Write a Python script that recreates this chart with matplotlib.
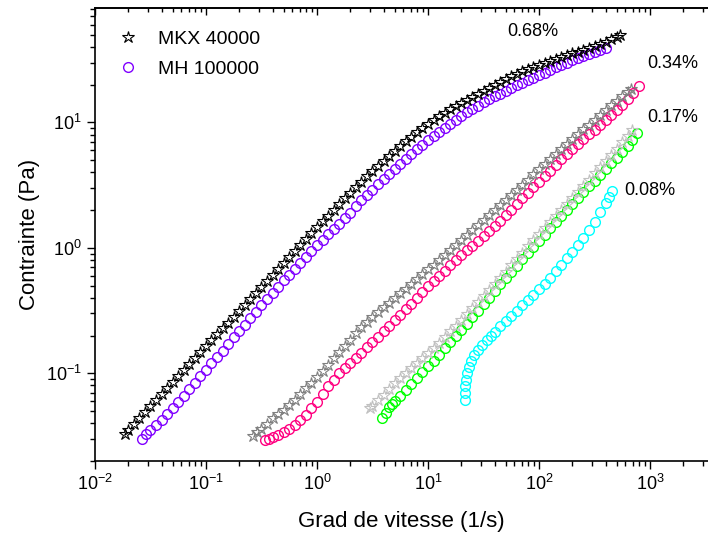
import matplotlib
matplotlib.use('Agg')
import matplotlib.pyplot as plt
from matplotlib.ticker import LogLocator, NullFormatter

plt.rcParams['font.family'] = ['Liberation Sans', 'DejaVu Sans']
plt.rcParams['mathtext.fontset'] = 'custom'
plt.rcParams['mathtext.rm'] = 'Liberation Sans'
plt.rcParams['mathtext.it'] = 'Liberation Sans:italic'
plt.rcParams['mathtext.default'] = 'regular'

# MKX 40000, 0.68%
mkx068_rate = [0.0186, 0.0200, 0.0224, 0.0251, 0.0282, 0.0316, 0.0355, 0.0398, 0.0447, 0.0501,
               0.0562, 0.0631, 0.0708, 0.0794, 0.0891, 0.1, 0.112, 0.126, 0.141, 0.158,
               0.178, 0.200, 0.224, 0.251, 0.282, 0.316, 0.355, 0.398, 0.447, 0.501,
               0.562, 0.631, 0.708, 0.794, 0.891, 1.0, 1.122, 1.259, 1.413, 1.585,
               1.778, 1.995, 2.239, 2.512, 2.818, 3.162, 3.548, 3.981, 4.467, 5.012,
               5.623, 6.310, 7.079, 7.943, 8.913, 10, 11.22, 12.59, 14.13, 15.85,
               17.78, 19.95, 22.39, 25.12, 28.18, 31.62, 35.48, 39.81, 44.67, 50.12,
               56.23, 63.10, 70.79, 79.43, 89.13, 100, 112.2, 125.9, 141.3, 158.5,
               177.8, 199.5, 223.9, 251.2, 281.8, 316.2, 354.8, 398.1, 446.7, 501.2,
               537]
mkx068_stress = [0.0331, 0.0355, 0.0396, 0.0442, 0.0493, 0.0550, 0.0613, 0.0684, 0.0763, 0.0851,
                 0.0950, 0.106, 0.118, 0.132, 0.147, 0.164, 0.183, 0.204, 0.228, 0.254,
                 0.283, 0.316, 0.353, 0.394, 0.439, 0.490, 0.547, 0.610, 0.680, 0.759,
                 0.846, 0.944, 1.053, 1.175, 1.311, 1.462, 1.627, 1.811, 2.014, 2.239,
                 2.483, 2.754, 3.048, 3.373, 3.716, 4.093, 4.498, 4.943, 5.408, 5.916,
                 6.457, 7.047, 7.656, 8.318, 9.016, 9.772, 10.47, 11.22, 11.96, 12.74,
                 13.49, 14.29, 15.13, 16.03, 16.94, 17.91, 18.90, 19.95, 21.01, 22.13,
                 23.25, 24.43, 25.55, 26.73, 27.77, 28.84, 29.85, 30.90, 31.99, 33.11,
                 34.27, 35.48, 36.73, 38.02, 39.36, 40.74, 42.42, 44.16, 46.24, 48.42,
                 49.66]

# MH 100000, 0.68%
mh068_rate = [0.0263, 0.0288, 0.0316, 0.0355, 0.0398, 0.0447, 0.0501, 0.0562, 0.0631, 0.0708,
              0.0794, 0.0891, 0.1, 0.112, 0.126, 0.141, 0.158, 0.178, 0.200, 0.224,
              0.251, 0.282, 0.316, 0.355, 0.398, 0.447, 0.501, 0.562, 0.631, 0.708,
              0.794, 0.891, 1.0, 1.122, 1.259, 1.413, 1.585, 1.778, 1.995, 2.239,
              2.512, 2.818, 3.162, 3.548, 3.981, 4.467, 5.012, 5.623, 6.310, 7.079,
              7.943, 8.913, 10, 11.22, 12.59, 14.13, 15.85, 17.78, 19.95, 22.39,
              25.12, 28.18, 31.62, 35.48, 39.81, 44.67, 50.12, 56.23, 63.10, 70.79,
              79.43, 89.13, 100, 112.2, 125.9, 141.3, 158.5, 177.8, 199.5, 223.9,
              251.2, 281.8, 316.2, 354.8, 398.1]
mh068_stress = [0.0302, 0.0327, 0.0355, 0.0389, 0.0427, 0.0473, 0.0525, 0.0589, 0.0661, 0.0746,
                0.0841, 0.0949, 0.107, 0.120, 0.135, 0.152, 0.172, 0.193, 0.217, 0.244,
                0.275, 0.309, 0.348, 0.391, 0.440, 0.492, 0.550, 0.613, 0.684, 0.763,
                0.851, 0.944, 1.047, 1.161, 1.288, 1.412, 1.549, 1.718, 1.905, 2.138,
                2.399, 2.645, 2.917, 3.217, 3.548, 3.899, 4.285, 4.688, 5.129, 5.591,
                6.095, 6.645, 7.244, 7.807, 8.414, 9.068, 9.772, 10.53, 11.35, 12.06,
                12.82, 13.61, 14.45, 15.27, 16.14, 16.98, 17.86, 18.77, 19.72, 20.70,
                21.73, 22.78, 23.88, 25.00, 26.18, 27.42, 28.71, 29.96, 31.26, 32.54,
                33.88, 35.16, 36.48, 37.67, 38.90]

# MKX 40000, 0.34%
mkx034_rate = [0.263, 0.288, 0.316, 0.355, 0.398, 0.447, 0.501, 0.562, 0.631, 0.708,
               0.794, 0.891, 1.0, 1.122, 1.259, 1.413, 1.585, 1.778, 1.995, 2.239,
               2.512, 2.818, 3.162, 3.548, 3.981, 4.467, 5.012, 5.623, 6.310, 7.079,
               7.943, 8.913, 10, 11.22, 12.59, 14.13, 15.85, 17.78, 19.95, 22.39,
               25.12, 28.18, 31.62, 35.48, 39.81, 44.67, 50.12, 56.23, 63.10, 70.79,
               79.43, 89.13, 100, 112.2, 125.9, 141.3, 158.5, 177.8, 199.5, 223.9,
               251.2, 281.8, 316.2, 354.8, 398.1, 446.7, 501.2, 562.3, 631.0, 676]
mkx034_stress = [0.0316, 0.0339, 0.0363, 0.0398, 0.0437, 0.0473, 0.0513, 0.0563, 0.0617, 0.0684,
                 0.0759, 0.0842, 0.0933, 0.1047, 0.1175, 0.1319, 0.148, 0.166, 0.186, 0.209,
                 0.234, 0.257, 0.282, 0.307, 0.335, 0.365, 0.398, 0.434, 0.473, 0.516,
                 0.562, 0.615, 0.673, 0.736, 0.804, 0.881, 0.966, 1.059, 1.161, 1.273,
                 1.396, 1.531, 1.679, 1.837, 2.009, 2.203, 2.415, 2.648, 2.904, 3.192,
                 3.508, 3.846, 4.217, 4.624, 5.070, 5.572, 6.124, 6.715, 7.362, 8.054,
                 8.810, 9.627, 10.52, 11.48, 12.53, 13.65, 14.86, 16.16, 17.58, 18.41]

# MH 100000, 0.34%
mh034_rate = [0.339, 0.367, 0.398, 0.447, 0.501, 0.562, 0.631, 0.708, 0.794, 0.891,
              1.0, 1.122, 1.259, 1.413, 1.585, 1.778, 1.995, 2.239, 2.512, 2.818,
              3.162, 3.548, 3.981, 4.467, 5.012, 5.623, 6.310, 7.079, 7.943, 8.913,
              10, 11.22, 12.59, 14.13, 15.85, 17.78, 19.95, 22.39, 25.12, 28.18,
              31.62, 35.48, 39.81, 44.67, 50.12, 56.23, 63.10, 70.79, 79.43, 89.13,
              100, 112.2, 125.9, 141.3, 158.5, 177.8, 199.5, 223.9, 251.2, 281.8,
              316.2, 354.8, 398.1, 446.7, 501.2, 562.3, 631.0, 707.9, 794.3]
mh034_stress = [0.0296, 0.0302, 0.0309, 0.0324, 0.0339, 0.0361, 0.0385, 0.0424, 0.0468, 0.0525,
                0.0589, 0.0684, 0.0794, 0.0891, 0.1, 0.1095, 0.120, 0.1324, 0.146, 0.1612,
                0.178, 0.196, 0.216, 0.239, 0.264, 0.292, 0.324, 0.359, 0.398, 0.444,
                0.495, 0.545, 0.600, 0.659, 0.724, 0.794, 0.871, 0.953, 1.042, 1.141,
                1.250, 1.367, 1.496, 1.650, 1.820, 2.019, 2.239, 2.483, 2.754, 3.048,
                3.373, 3.728, 4.121, 4.571, 5.070, 5.559, 6.095, 6.683, 7.328, 8.017,
                8.770, 9.582, 10.47, 11.48, 12.59, 13.85, 15.24, 17.24, 19.50]

# MKX 40000, 0.17%
mkx017_rate = [3.020, 3.162, 3.548, 3.981, 4.467, 5.012, 5.623, 6.310, 7.079, 7.943,
               8.913, 10, 11.22, 12.59, 14.13, 15.85, 17.78, 19.95, 22.39, 25.12,
               28.18, 31.62, 35.48, 39.81, 44.67, 50.12, 56.23, 63.10, 70.79, 79.43,
               89.13, 100, 112.2, 125.9, 141.3, 158.5, 177.8, 199.5, 223.9, 251.2,
               281.8, 316.2, 354.8, 398.1, 446.7, 501.2, 562.3, 631.0, 692]
mkx017_stress = [0.0525, 0.0550, 0.0610, 0.0676, 0.0750, 0.0832, 0.0912, 0.1, 0.1095, 0.120,
                 0.1319, 0.145, 0.1597, 0.176, 0.195, 0.216, 0.240, 0.267, 0.297, 0.331,
                 0.369, 0.412, 0.461, 0.515, 0.577, 0.646, 0.725, 0.813, 0.914, 1.028,
                 1.151, 1.288, 1.440, 1.611, 1.799, 2.009, 2.246, 2.512, 2.809, 3.141,
                 3.508, 3.917, 4.380, 4.898, 5.496, 6.166, 6.958, 7.852, 8.630]

# MH 100000, 0.17%
mh017_rate = [3.890, 4.17, 4.467, 4.73, 5.012, 5.623, 6.310, 7.079, 7.943, 8.913,
              10, 11.22, 12.59, 14.13, 15.85, 17.78, 19.95, 22.39, 25.12, 28.18,
              31.62, 35.48, 39.81, 44.67, 50.12, 56.23, 63.10, 70.79, 79.43, 89.13,
              100, 112.2, 125.9, 141.3, 158.5, 177.8, 199.5, 223.9, 251.2, 281.8,
              316.2, 354.8, 398.1, 446.7, 501.2, 562.3, 631.0, 691.8, 758.6]
mh017_stress = [0.0437, 0.0484, 0.0537, 0.0569, 0.0603, 0.0665, 0.0733, 0.0818, 0.0912, 0.1017,
                0.1135, 0.1265, 0.141, 0.158, 0.177, 0.1978, 0.221, 0.249, 0.281, 0.316,
                0.356, 0.402, 0.454, 0.511, 0.575, 0.644, 0.721, 0.808, 0.906, 1.015,
                1.138, 1.277, 1.432, 1.607, 1.803, 2.009, 2.239, 2.492, 2.773, 3.087,
                3.436, 3.815, 4.236, 4.715, 5.248, 5.834, 6.486, 7.278, 8.166]

# MH 100000, 0.08%
mh008_rate = [21.5, 21.5, 21.6, 21.9, 22.4, 23.2, 24.4, 26.0, 28.2, 30.9,
              33.9, 36.7, 39.8, 44.7, 50.1, 56.2, 63.1, 70.8, 79.4, 89.1,
              100, 112.2, 125.9, 141.3, 158.5, 177.8, 199.5, 223.9, 251.2, 281.8,
              316.2, 354.8, 398.1, 426.6, 457]
mh008_stress = [0.0617, 0.0692, 0.0794, 0.0891, 0.1, 0.112, 0.126, 0.140, 0.153, 0.168,
                0.184, 0.198, 0.214, 0.237, 0.263, 0.288, 0.316, 0.349, 0.385, 0.424,
                0.468, 0.519, 0.575, 0.649, 0.733, 0.827, 0.933, 1.059, 1.202, 1.396,
                1.622, 1.917, 2.265, 2.544, 2.858]

conc_labels = ['0.68%', '0.34%', '0.17%', '0.08%']
label_x = [52, 940, 940, 584]
label_y = [53, 29.6, 11, 2.86]

fig = plt.figure(figsize=(7.08, 5.39), dpi=100)
ax = fig.add_axes([95 / 708, 1 - 461 / 539, 613 / 708, 453 / 539])

star = dict(marker='*', linestyle='none', fillstyle='none', markersize=9, markeredgewidth=0.8)
circ = dict(marker='o', linestyle='none', fillstyle='none', markersize=7, markeredgewidth=1.0)

ax.plot(mh068_rate, mh068_stress, color='#8000ff', label='MH 100000', **circ)
ax.plot(mkx068_rate, mkx068_stress, color='black', label='MKX 40000', **star)
ax.plot(mh034_rate, mh034_stress, color='#ff0080', **circ)
ax.plot(mkx034_rate, mkx034_stress, color='#808080', **star)
ax.plot(mh017_rate, mh017_stress, color='#00ff00', **circ)
ax.plot(mkx017_rate, mkx017_stress, color='#c0c0c0', **star)
ax.plot(mh008_rate, mh008_stress, color='#00ffff', **circ)

for t, x, y in zip(conc_labels, label_x, label_y):
    ax.text(x, y, t, fontsize=13, ha='left', va='center')

ax.set_xscale('log')
ax.set_yscale('log')
ax.set_xlim(0.01, 3330)
ax.set_ylim(0.02, 81.7)

ax.xaxis.set_minor_locator(LogLocator(base=10, subs=range(2, 10), numticks=20))
ax.yaxis.set_minor_locator(LogLocator(base=10, subs=range(2, 10), numticks=20))
ax.xaxis.set_minor_formatter(NullFormatter())
ax.yaxis.set_minor_formatter(NullFormatter())

ax.tick_params(which='major', direction='out', length=6, width=1, labelsize=13)
ax.tick_params(which='minor', direction='out', length=3.5, width=1)
ax.tick_params(which='both', top=False, right=False)
ax.spines['right'].set_visible(False)
for s in ['left', 'bottom', 'top']:
    ax.spines[s].set_linewidth(1.2)

# top axis: ticks pointing in, no labels
top = ax.secondary_xaxis('top')
top.xaxis.set_minor_locator(LogLocator(base=10, subs=range(2, 10), numticks=20))
top.tick_params(which='major', direction='in', length=5, width=1, labeltop=False)
top.tick_params(which='minor', direction='in', length=3, width=1)
top.xaxis.set_minor_formatter(NullFormatter())
top.spines['top'].set_linewidth(1.2)

ax.set_xlabel('Grad de vitesse (1/s)', fontsize=16, labelpad=12)
ax.set_ylabel('Contrainte (Pa)', fontsize=16, labelpad=4)

h, l = ax.get_legend_handles_labels()
ax.legend(h[::-1], l[::-1], loc='upper left', frameon=False, fontsize=14,
          handlelength=1.0, handletextpad=1.0, labelspacing=0.65,
          bbox_to_anchor=(0.01, 0.99))

fig.savefig('out.png', dpi=100)
